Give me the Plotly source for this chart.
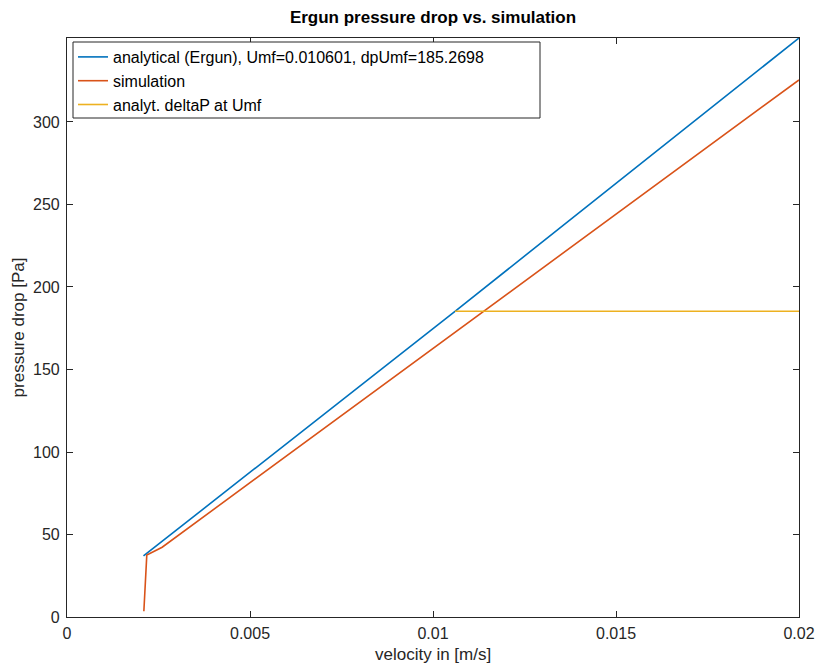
import plotly.graph_objects as go

# Data
ergun_x = [0.00209, 0.010601, 0.02]
ergun_y = [37.0, 185.2698, 350.9]
sim_x = [0.00210, 0.00218, 0.0026, 0.01139, 0.02]
sim_y = [3.5, 37.5, 42.3, 185.27, 325.5]
umf_x = [0.010601, 0.02]
umf_y = [185.2698, 185.2698]
names = ["analytical (Ergun), Umf=0.010601, dpUmf=185.2698",
         "simulation",
         "analyt. deltaP at Umf"]
colors = ["#0072BD", "#D95319", "#EDB120"]
x_ticks = [0, 0.005, 0.01, 0.015, 0.02]
x_tick_labels = ["0", "0.005", "0.01", "0.015", "0.02"]
y_ticks = [0, 50, 100, 150, 200, 250, 300]
x_title = "velocity in [m/s]"
y_title = "pressure drop [Pa]"

fig = go.Figure()
for xs, ys, nm, c in zip([ergun_x, sim_x, umf_x], [ergun_y, sim_y, umf_y], names, colors):
    fig.add_trace(go.Scatter(x=xs, y=ys, mode="lines", name=nm,
                             line=dict(color=c, width=1.6)))

# page body has an 8px margin: figure placed at (8, 8)
W, H = 813, 658
L, R, T, B = 59, 22, 30, 49
pw, ph = W - L - R, H - T - B


def px_x(p):  # page px -> paper x
    return (p - 8 - L) / pw


def px_y(p):  # page px -> paper y
    return 1 - (p - 8 - T) / ph


font = "Liberation Sans, Arial, sans-serif"
fig.update_layout(
    width=W, height=H,
    margin=dict(l=L, r=R, t=T, b=B),
    paper_bgcolor="white", plot_bgcolor="white",
    font=dict(family=font, size=16, color="#262626"),
    title=dict(text="<b>Ergun pressure drop vs. simulation</b>",
               x=(L + W - R) / 2 / W, xanchor="center",
               y=1 - 9 / H, yanchor="middle",
               font=dict(size=17, color="#000000")),
    showlegend=True,
    legend=dict(x=px_x(73), y=px_y(40), xanchor="left", yanchor="top",
                bgcolor="rgba(0,0,0,0)", borderwidth=0,
                font=dict(size=16, color="#000000"), tracegroupgap=0),
    shapes=[dict(type="rect", xref="paper", yref="paper",
                 x0=px_x(73), x1=px_x(540), y0=px_y(42), y1=px_y(118),
                 line=dict(color="#262626", width=1), fillcolor="white",
                 layer="above")],
    annotations=[dict(text=x_title, xref="paper", yref="paper",
                      x=0.5, y=px_y(654), xanchor="center", yanchor="middle",
                      showarrow=False, font=dict(size=17, color="#262626"))],
)
fig.update_xaxes(range=[0, 0.02], tickvals=x_ticks, ticktext=x_tick_labels,
                 ticks="inside", ticklen=6, tickcolor="#262626",
                 showline=True, linecolor="#262626", linewidth=1.2, mirror="ticks",
                 showgrid=False, zeroline=False, automargin=False,
                 ticklabelstandoff=2)
fig.update_yaxes(range=[0, 350.9], tickvals=y_ticks,
                 ticks="inside", ticklen=6, tickcolor="#262626",
                 showline=True, linecolor="#262626", linewidth=1.2, mirror="ticks",
                 showgrid=False, zeroline=False, automargin=False,
                 ticklabelstandoff=3,
                 title=dict(text=y_title, font=dict(size=17), standoff=4))

fig.write_html("out.html")
